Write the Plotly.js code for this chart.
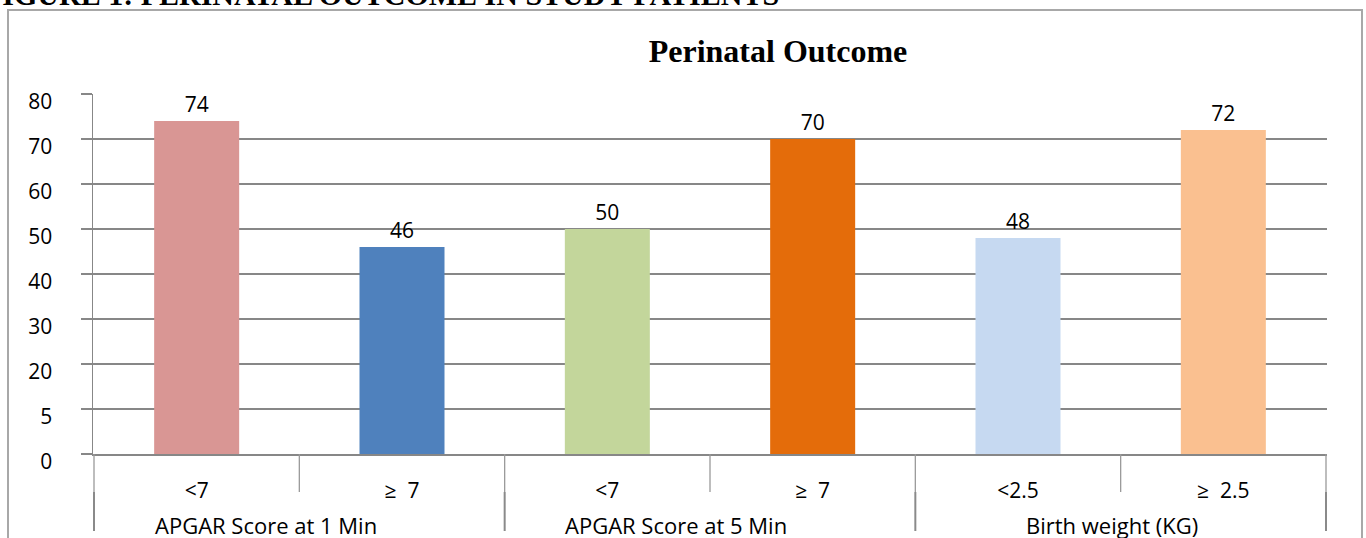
<!DOCTYPE html>
<html><head><meta charset="utf-8">
<script src="https://cdn.plot.ly/plotly-3.0.1.min.js"></script>
<style>html,body{margin:0;padding:0;background:#fff;overflow:hidden}#chart{width:1366px;height:538px}</style>
</head><body><div id="chart"></div>
<script>
// ---- data ----
const groups = ['APGAR Score at 1 Min', 'APGAR Score at 5 Min', 'Birth weight (KG)'];
const subLabels = ['<7', '≥\u00a0\u00a07', '<7', '≥\u00a0\u00a07', '<2.5', '≥\u00a0\u00a02.5'];
const groupOf = [0, 0, 1, 1, 2, 2];
const values = [74, 46, 50, 70, 48, 72];
const barColors = ['#D99694', '#4F81BD', '#C3D69B', '#E46C0A', '#C6D9F1', '#FAC090'];
const yTickVals = [0, 10, 20, 30, 40, 50, 60, 70, 80];
const yTickText = ['0', '5', '20', '30', '40', '50', '60', '70', '80'];
const chartTitle = 'Perinatal Outcome';
const figureCaption = 'FIGURE 1: PERINATAL OUTCOME IN STUDY PATIENTS';

// ---- layout helpers ----
const W = 1366, H = 538;
const M = {l: 93, r: 39, t: 94, b: 84};
const PW = W - M.l - M.r, PH = H - M.t - M.b;
const px = X => (X - M.l) / PW;
const py = Y => (H - M.b - Y) / PH;
const esc = s => s.replace(/</g, '&lt;');

const keys = subLabels.map((s, i) => 'c' + i);

const shapes = [];
// outer frame
shapes.push({type: 'rect', xref: 'paper', yref: 'paper', x0: px(8), x1: px(1362), y0: py(700), y1: py(10),
  line: {color: '#a8a8a8', width: 2}, fillcolor: 'rgba(0,0,0,0)'});
// category boundary ticks
for (let i = 0; i <= keys.length; i++) {
  shapes.push({type: 'line', xref: 'x', yref: 'paper', x0: i - 0.5, x1: i - 0.5, y0: 0, y1: py(492),
    line: {color: '#9a9a9a', width: 1.3}});
}
// group dividers
const groupStarts = [];
groupOf.forEach((g, i) => { if (i === 0 || groupOf[i - 1] !== g) groupStarts.push(i); });
groupStarts.push(keys.length);
groupStarts.forEach(i => {
  shapes.push({type: 'line', xref: 'x', yref: 'paper', x0: i - 0.5, x1: i - 0.5, y0: py(492), y1: py(531),
    line: {color: '#8a8a8a', width: 2}});
});

const annotations = groups.map((g, gi) => {
  const end = groupStarts[gi + 1] - 0.5;
  return {x: end, xref: 'x', xshift: -126, y: py(525), yref: 'paper', text: g, showarrow: false,
    xanchor: 'right', yanchor: 'middle', font: {family: 'Open Sans', size: 22, color: '#000'}};
});
annotations.push({x: px(-18), xref: 'paper', y: py(13.5), yref: 'paper', text: '<b>' + figureCaption + '</b>',
  showarrow: false, xanchor: 'left', yanchor: 'bottom',
  font: {family: 'Liberation Serif', size: 30, color: '#000'}});

const trace = {
  type: 'bar', x: keys, y: values,
  marker: {color: barColors, line: {width: 0}},
  text: values.map(String), textposition: 'outside', cliponaxis: false,
  textfont: {family: 'Open Sans', size: 21, color: '#000'},
  hoverinfo: 'none'
};

const layout = {
  width: W, height: H, margin: M,
  paper_bgcolor: '#fff', plot_bgcolor: '#fff',
  showlegend: false, bargap: 0.586,
  font: {family: 'Open Sans', size: 21, color: '#000'},
  title: {text: '<b>' + chartTitle + '</b>', font: {family: 'Liberation Serif', size: 32, color: '#000'},
    xref: 'container', x: 778 / W, xanchor: 'center', yref: 'container', y: 1 - 62 / H, yanchor: 'bottom'},
  xaxis: {type: 'category', tickvals: keys, ticktext: subLabels.map(esc), ticks: '', showgrid: false,
    showline: true, linecolor: '#878787', linewidth: 1.5, zeroline: false, ticklabelstandoff: 17,
    tickfont: {family: 'Open Sans', size: 21, color: '#000'}, automargin: false, fixedrange: true},
  yaxis: {range: [0, 80], tickvals: yTickVals, ticktext: yTickText, ticks: 'outside', ticklen: 11,
    tickcolor: '#878787', tickwidth: 1.5, showline: true, linecolor: '#878787', linewidth: 1.5,
    showgrid: true, gridcolor: '#878787', gridwidth: 1.5, zeroline: false,
    ticklabelstandoff: 24, ticklabelshift: 8,
    tickfont: {family: 'Open Sans', size: 21, color: '#000'}, automargin: false, fixedrange: true},
  shapes: shapes, annotations: annotations
};

Plotly.newPlot('chart', [trace], layout, {staticPlot: true, displayModeBar: false});
</script></body></html>
